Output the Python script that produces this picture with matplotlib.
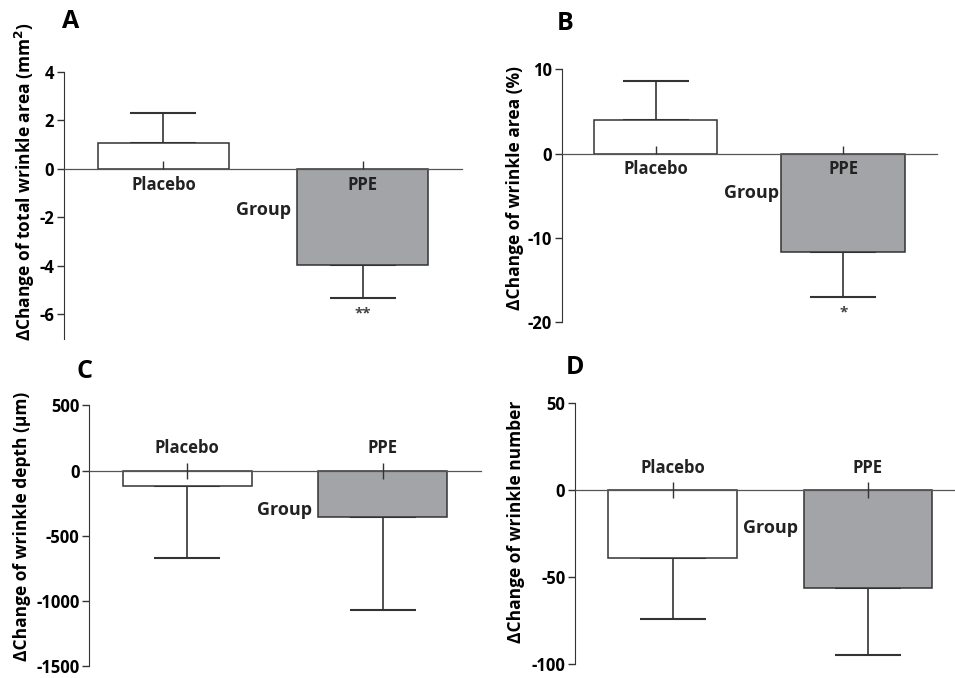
import matplotlib
matplotlib.use("Agg")
import matplotlib.pyplot as plt
import numpy as np

plt.rcParams["font.family"] = ["Open Sans", "DejaVu Sans"]
plt.rcParams["font.weight"] = "bold"

groups = ["Placebo", "PPE"]

# mean change and one-sided SEM, per panel
area_mm2 = [1.08, -3.96]
area_mm2_err = [1.24, 1.35]
area_pct = [4.0, -11.7]
area_pct_err = [4.62, 5.38]
depth_um = [-122, -359]
depth_um_err = [553, 710]
number = [-39, -56.4]
number_err = [35.2, 38.4]

stars_a = ["", "**"]
stars_b = ["", "*"]

bar_colors = ["white", "#a3a4a8"]
edge = "#333333"

fig = plt.figure(figsize=(9.55, 6.78), dpi=100)


def panel(rect, means, errs, ylim, yticks, ylabel, ylabel_xy, letter, letter_xy,
          group_xy, labels_above, stars=None):
    ax = fig.add_axes(rect)
    x = np.arange(len(means))
    means = np.asarray(means, dtype=float)
    errs = np.asarray(errs, dtype=float)
    ax.bar(x, means, width=0.66, color=bar_colors, edgecolor=edge, linewidth=1.1, zorder=2)
    lower = np.where(means < 0, errs, 0)
    upper = np.where(means >= 0, errs, 0)
    ax.errorbar(x, means, yerr=[lower, upper], fmt="none", ecolor=edge,
                elinewidth=1.2, capsize=24, capthick=1.5, zorder=1)
    ax.set_axisbelow(False)
    ax.set_xlim(-0.5, 1.5)
    ax.set_ylim(*ylim)
    ax.set_yticks(yticks)
    ax.set_yticklabels([str(t) for t in yticks], fontsize=12, fontweight="bold")
    ax.tick_params(axis="y", direction="out", length=5, width=1, color=edge, pad=2)

    ax.spines["right"].set_visible(False)
    ax.spines["left"].set_color(edge)
    if labels_above:
        ax.spines["bottom"].set_visible(False)
        ax.spines["top"].set_position(("data", 0))
        ax.spines["top"].set_color("#555555")
        ax.spines["top"].set_linewidth(0.9)
        ax.xaxis.tick_top()
        ax.tick_params(axis="x", direction="inout", length=11, width=1, color=edge, pad=4)
    else:
        ax.spines["top"].set_visible(False)
        ax.spines["bottom"].set_position(("data", 0))
        ax.spines["bottom"].set_color("#555555")
        ax.spines["bottom"].set_linewidth(0.9)
        ax.tick_params(axis="x", direction="in", length=6, width=1, color=edge, pad=5)
    ax.set_xticks(x)
    ax.set_xticklabels(groups, fontsize=12, fontweight="bold", color="#222222")
    ax.set_facecolor("none")

    ax.text(group_xy[0], group_xy[1], "Group", transform=ax.transAxes, ha="center",
            va="center", fontsize=13, fontweight="bold", color="#222222")

    if stars:
        for xi, m, e, s in zip(x, means, errs, stars):
            if s:
                ax.annotate(s, (xi, m - e), xytext=(0, -6), textcoords="offset points",
                            ha="center", va="top", fontsize=11, fontweight="bold",
                            color="#444444")

    fig.text(ylabel_xy[0] / 955, 1 - ylabel_xy[1] / 678, ylabel, rotation=90,
             ha="center", va="center", fontsize=12.5, fontweight="bold")
    fig.text(letter_xy[0] / 955, 1 - letter_xy[1] / 678, letter, ha="center",
             va="center", fontsize=18, fontweight="bold")
    return ax


panel([0.0670, 0.5004, 0.4168, 0.3934], area_mm2, area_mm2_err, (-7, 4),
      [-6, -4, -2, 0, 2, 4], "\u0394Change of total wrinkle area (mm$^\\mathbf{2}$)",
      (25, 182), "A", (71, 22), (0.50, 0.483), False, stars_a)

panel([0.5882, 0.5251, 0.3930, 0.3727], area_pct, area_pct_err, (-20, 10),
      [-20, -10, 0, 10], "\u0394Change of wrinkle area (%)",
      (515, 188), "B", (565, 24), (0.505, 0.51), False, stars_b)

panel([0.0935, 0.0180, 0.4098, 0.3840], depth_um, depth_um_err, (-1500, 500),
      [-1500, -1000, -500, 0, 500], "\u0394Change of wrinkle depth (\u03bcm)",
      (22, 526), "C", (85, 372), (0.50, 0.60), True)

panel([0.6021, 0.0206, 0.4090, 0.3854], number, number_err, (-100, 50),
      [-100, -50, 0, 50], "\u0394Change of wrinkle number",
      (516, 522), "D", (575, 367), (0.50, 0.52), True)

fig.savefig("out.png", dpi=100)
